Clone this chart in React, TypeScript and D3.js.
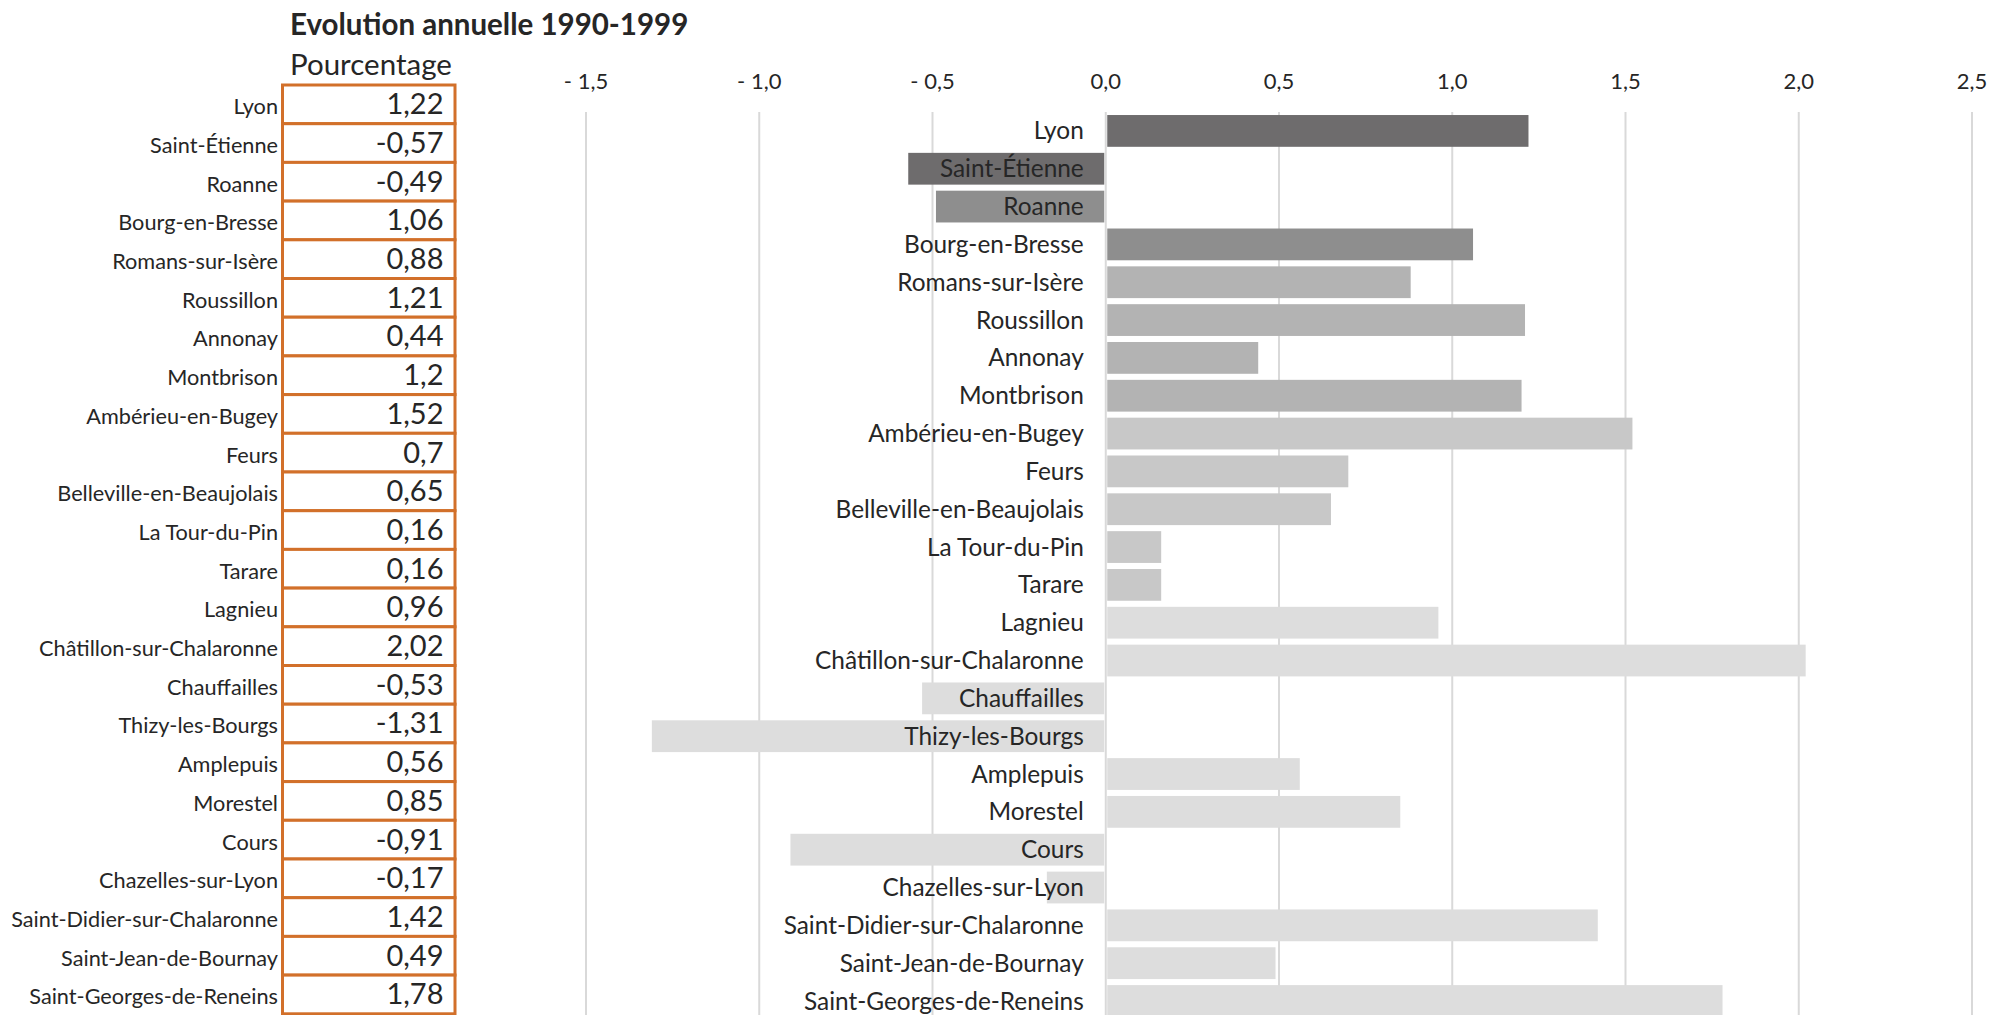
import React from "react";
import * as d3 from "d3";

const cities = [
  "Lyon",
  "Saint-Étienne",
  "Roanne",
  "Bourg-en-Bresse",
  "Romans-sur-Isère",
  "Roussillon",
  "Annonay",
  "Montbrison",
  "Ambérieu-en-Bugey",
  "Feurs",
  "Belleville-en-Beaujolais",
  "La Tour-du-Pin",
  "Tarare",
  "Lagnieu",
  "Châtillon-sur-Chalaronne",
  "Chauffailles",
  "Thizy-les-Bourgs",
  "Amplepuis",
  "Morestel",
  "Cours",
  "Chazelles-sur-Lyon",
  "Saint-Didier-sur-Chalaronne",
  "Saint-Jean-de-Bournay",
  "Saint-Georges-de-Reneins",
];

const evolution = [
  1.22, -0.57, -0.49, 1.06, 0.88, 1.21, 0.44, 1.2, 1.52, 0.7, 0.65, 0.16, 0.16,
  0.96, 2.02, -0.53, -1.31, 0.56, 0.85, -0.91, -0.17, 1.42, 0.49, 1.78,
];

const tickValues = [-1.5, -1.0, -0.5, 0.0, 0.5, 1.0, 1.5, 2.0, 2.5];

const title = "Evolution annuelle 1990-1999";
const subtitle = "Pourcentage";

const W = 1995;
const H = 1015;
const FONT = "Lato, 'Noto Sans', sans-serif";
const TEXT = "#262626";

function barColor(i: number): string {
  if (i < 2) return "#6E6C6D";
  if (i < 4) return "#8E8E8E";
  if (i < 8) return "#B3B3B3";
  if (i < 13) return "#C8C8C8";
  return "#DDDDDD";
}

const fmtVal = (v: number) => String(v).replace(".", ",");
const fmtTick = (v: number) =>
  v < 0 ? "- " + Math.abs(v).toFixed(1).replace(".", ",") : v.toFixed(1).replace(".", ",");

export default function App() {
  const x = d3.scaleLinear().domain([-1.5, 2.5]).range([586, 1972]);
  const chartTop = 112;
  const step = 37.83;
  const y = d3
    .scaleBand<string>()
    .domain(cities)
    .range([chartTop, chartTop + cities.length * step])
    .paddingInner(0.16)
    .paddingOuter(0.08);

  const tableTop = 85;
  const tableRow = 38.7;
  const tableLeft = 282.5;
  const tableRight = 455;
  const ty = d3
    .scaleBand<string>()
    .domain(cities)
    .range([tableTop, tableTop + cities.length * tableRow]);

  const x0 = x(0);

  return (
    <svg
      width={W}
      height={H}
      style={{ position: "absolute", left: 0, top: 0, background: "#fff" }}
      fontFamily={FONT}
    >
      <rect x={0} y={0} width={W} height={H} fill="#fff" />
      <text x={290} y={35} fontSize={29.5} fontWeight={700} fill={TEXT}>
        {title}
      </text>
      <text x={290} y={75} fontSize={29.5} fill={TEXT}>
        {subtitle}
      </text>

      {/* gridlines */}
      {tickValues.map((t) => (
        <g key={t}>
          <line
            x1={x(t)}
            x2={x(t)}
            y1={chartTop}
            y2={H}
            stroke="#D9D9D9"
            strokeWidth={2}
          />
          <text x={x(t)} y={89} fontSize={22} textAnchor="middle" fill={TEXT}>
            {fmtTick(t)}
          </text>
        </g>
      ))}

      {/* bars */}
      {cities.map((c, i) => {
        const v = evolution[i];
        const by = y(c)!;
        const bh = y.bandwidth();
        const xa = v >= 0 ? x0 + 1.5 : x(v);
        const wa = v >= 0 ? x(v) - x0 - 1.5 : x0 - 1.5 - x(v);
        return <rect key={c} x={xa} y={by} width={wa} height={bh} fill={barColor(i)} />;
      })}

      {/* chart labels */}
      {cities.map((c) => (
        <text
          key={c}
          x={x0 - 22}
          y={y(c)! + y.bandwidth() / 2}
          dy="0.35em"
          fontSize={24.4}
          textAnchor="end"
          fill={TEXT}
        >
          {c}
        </text>
      ))}

      {/* table */}
      {cities.map((c, i) => {
        const ry = ty(c)!;
        return (
          <g key={c}>
            <rect
              x={tableLeft}
              y={ry}
              width={tableRight - tableLeft}
              height={tableRow}
              fill="#fff"
              stroke="#D2702A"
              strokeWidth={3}
            />
            <text x={443.5} y={ry + tableRow - 9.5} fontSize={29} textAnchor="end" fill={TEXT}>
              {fmtVal(evolution[i])}
            </text>
            <text x={278} y={ry + tableRow - 9.5} fontSize={21.7} textAnchor="end" fill={TEXT}>
              {c}
            </text>
          </g>
        );
      })}
    </svg>
  );
}
